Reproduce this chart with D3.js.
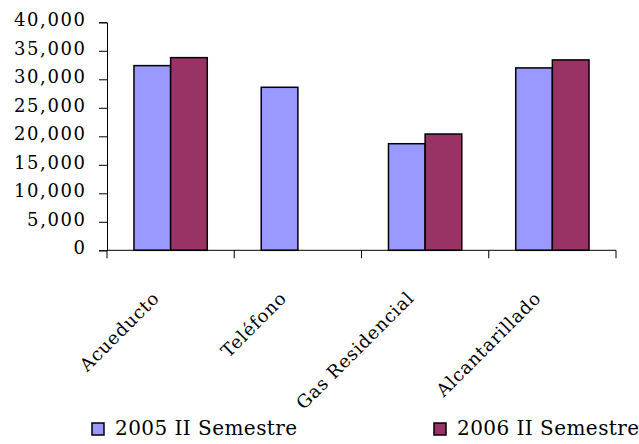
<!DOCTYPE html>
<html>
<head>
<meta charset="utf-8">
<script src="https://cdn.jsdelivr.net/npm/d3@7"></script>
<style>
  body { margin: 0; background: #fff; }
  text { font-family: "DejaVu Serif", serif; fill: #000; }
</style>
</head>
<body>
<div id="graphic"></div>
<script>
// data
var categories = ["Acueducto", "Teléfono", "Gas Residencial", "Alcantarillado"];
var seriesNames = ["2005 II Semestre", "2006 II Semestre"];
var values2005 = [32400, 28600, 18700, 32000];
var values2006 = [33800, null, 20400, 33400];
var yTicks = [0, 5000, 10000, 15000, 20000, 25000, 30000, 35000, 40000];
var colors = ["#9999FF", "#993366"];

var margin = { top: 22.3, right: 23, bottom: 193.7, left: 107 };
var width = 639 - margin.left - margin.right,
    height = 444 - margin.top - margin.bottom;

var svg = d3.select("#graphic").append("svg")
    .attr("width", 639)
    .attr("height", 444)
    .append("g")
    .attr("transform", "translate(" + margin.left + "," + margin.top + ")");

var x = d3.scaleBand().domain(categories).range([0, width]).paddingInner(0.424).paddingOuter(0.212);
var xSub = d3.scaleBand().domain([0, 1]).range([0, x.bandwidth()]);
var y = d3.scaleLinear().domain([0, 40000]).range([height, 0]);

// y axis
var yAxis = svg.append("g")
    .call(d3.axisLeft(y).tickValues(yTicks).tickSize(8).tickPadding(12.4)
        .tickFormat(d3.format(",")));
yAxis.selectAll("text")
    .attr("dy", "0.18em")
    .style("font-size", "18px")
    .style("letter-spacing", "1.6px");
yAxis.select(".domain").attr("stroke", "#000");
yAxis.selectAll(".tick line").attr("stroke", "#000");

// bars
var series = [values2005, values2006];
series.forEach(function (vals, s) {
    svg.selectAll(".bar" + s)
        .data(vals.map(function (v, i) { return { c: categories[i], v: v }; })
            .filter(function (d) { return d.v != null; }))
        .enter().append("rect")
        .attr("class", "bar" + s)
        .attr("x", function (d) { return x(d.c) + xSub(s); })
        .attr("y", function (d) { return y(d.v); })
        .attr("width", xSub.bandwidth())
        .attr("height", function (d) { return height - y(d.v); })
        .attr("fill", colors[s])
        .attr("stroke", "#000")
        .attr("stroke-width", 1.5);
});

// x axis: ticks between categories
var step = x.step();
var xAxis = svg.append("g").attr("transform", "translate(0," + height + ")");
xAxis.append("line").attr("x1", 0).attr("x2", width).attr("stroke", "#000");
xAxis.selectAll(".xt").data(d3.range(categories.length + 1)).enter().append("line")
    .attr("x1", function (i) { return i * step; })
    .attr("x2", function (i) { return i * step; })
    .attr("y1", 0).attr("y2", 8)
    .attr("stroke", "#000");
xAxis.selectAll(".xl").data(categories).enter().append("text")
    .attr("transform", function (d) {
        return "translate(" + (x(d) + x.bandwidth() / 2 - 19) + ",40) rotate(-45)";
    })
    .attr("text-anchor", "end")
    .attr("dy", "0.7em")
    .style("font-size", "18px")
    .style("letter-spacing", "0.8px")
    .text(function (d) { return d; });

// legend
var legendX = [-15, 327];
var legend = svg.selectAll(".legend").data(seriesNames).enter().append("g")
    .attr("transform", function (d, i) { return "translate(" + legendX[i] + "," + (423 - margin.top) + ")"; });
legend.append("rect")
    .attr("x", 0).attr("y", 0).attr("width", 12).attr("height", 12)
    .attr("fill", function (d, i) { return colors[i]; })
    .attr("stroke", "#000").attr("stroke-width", 1.5);
legend.append("text")
    .attr("x", 23).attr("y", 12)
    .style("font-size", "20px")
    .style("letter-spacing", "0.45px")
    .text(function (d) { return d; });
</script>
</body>
</html>
